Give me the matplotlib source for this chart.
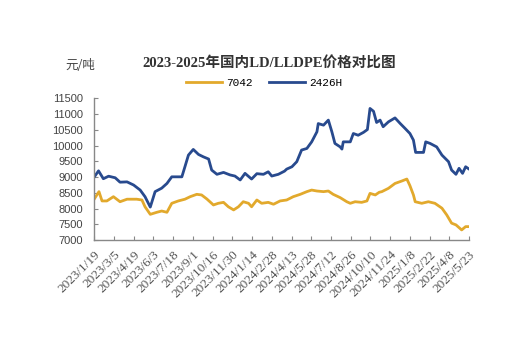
import pandas as pd
import numpy as np
import matplotlib.pyplot as plt

plt.rcParams['font.family'] = ['Noto Sans CJK SC', 'DejaVu Sans']

# 2426H (blue)
dates_2426h = ["2023-01-19", "2023-01-29", "2023-02-09", "2023-02-21", "2023-03-08", "2023-03-19",
               "2023-04-04", "2023-04-19", "2023-05-04", "2023-05-15", "2023-05-27", "2023-06-07",
               "2023-06-22", "2023-07-04", "2023-07-15", "2023-08-07", "2023-08-14", "2023-08-22",
               "2023-09-02", "2023-09-14", "2023-09-25", "2023-10-07", "2023-10-14", "2023-10-26",
               "2023-11-10", "2023-11-25", "2023-12-06", "2023-12-18", "2023-12-29", "2024-01-13",
               "2024-01-25", "2024-02-09", "2024-02-20", "2024-02-28", "2024-03-14", "2024-03-28",
               "2024-04-02", "2024-04-14", "2024-04-25", "2024-05-06", "2024-05-18", "2024-05-29",
               "2024-06-10", "2024-06-13", "2024-06-25", "2024-07-06", "2024-07-14", "2024-07-21",
               "2024-08-02", "2024-08-06", "2024-08-09", "2024-08-25", "2024-09-01", "2024-09-12",
               "2024-09-24", "2024-10-03", "2024-10-09", "2024-10-17", "2024-10-24", "2024-11-01",
               "2024-11-08", "2024-11-20", "2024-12-05", "2024-12-17", "2024-12-28", "2025-01-08",
               "2025-01-16", "2025-01-21", "2025-02-08", "2025-02-13", "2025-02-23", "2025-03-10",
               "2025-03-22", "2025-04-06", "2025-04-13", "2025-04-23", "2025-04-30", "2025-05-08",
               "2025-05-15", "2025-05-23"]
vals_2426h = [9000, 9200, 8950, 9030, 8980, 8840,
              8850, 8750, 8590, 8380, 8050, 8540,
              8650, 8800, 9010, 9010, 9330, 9700,
              9880, 9720, 9645, 9575, 9225, 9090,
              9150, 9070, 9035, 8910, 9120, 8940,
              9110, 9090, 9170, 9035, 9090, 9190,
              9255, 9330, 9490, 9860, 9910, 10120,
              10440, 10700, 10650, 10810, 10440, 10070,
              9960, 9890, 10120, 10120, 10385, 10330,
              10420, 10510, 11180, 11090, 10735, 10810,
              10600, 10755, 10880, 10700, 10545, 10385,
              10175, 9785, 9785, 10120, 10070, 9960,
              9700, 9490, 9225, 9090, 9280, 9120,
              9330, 9255]

# 7042 (orange)
dates_7042 = ["2023-01-19", "2023-01-30", "2023-02-06", "2023-02-17", "2023-03-04", "2023-03-19",
              "2023-04-04", "2023-04-26", "2023-05-08", "2023-05-15", "2023-05-27", "2023-06-11",
              "2023-06-22", "2023-07-04", "2023-07-15", "2023-07-30", "2023-08-14", "2023-08-26",
              "2023-09-10", "2023-09-21", "2023-10-03", "2023-10-18", "2023-10-29", "2023-11-10",
              "2023-11-21", "2023-12-03", "2023-12-14", "2023-12-25", "2024-01-06", "2024-01-13",
              "2024-01-25", "2024-02-05", "2024-02-20", "2024-03-03", "2024-03-18", "2024-04-02",
              "2024-04-17", "2024-05-03", "2024-05-18", "2024-05-29", "2024-06-10", "2024-06-25",
              "2024-07-06", "2024-07-17", "2024-08-02", "2024-08-17", "2024-08-25", "2024-09-05",
              "2024-09-20", "2024-10-02", "2024-10-09", "2024-10-21", "2024-10-30", "2024-11-05",
              "2024-11-20", "2024-12-05", "2024-12-20", "2025-01-01", "2025-01-08", "2025-01-16",
              "2025-01-20", "2025-02-04", "2025-02-19", "2025-03-06", "2025-03-22", "2025-04-02",
              "2025-04-13", "2025-04-23", "2025-05-06", "2025-05-15", "2025-05-23"]
vals_7042 = [8300, 8540, 8245, 8245, 8380, 8220,
             8300, 8300, 8275, 8060, 7820, 7885,
             7925, 7885, 8170, 8245, 8300, 8380,
             8455, 8435, 8307, 8117, 8170, 8200,
             8060, 7960, 8060, 8220, 8170, 8060,
             8275, 8170, 8200, 8140, 8245, 8275,
             8380, 8455, 8540, 8590, 8560, 8540,
             8560, 8455, 8350, 8220, 8170, 8220,
             8200, 8245, 8485, 8435, 8520, 8540,
             8645, 8800, 8875, 8940, 8730, 8435,
             8220, 8170, 8220, 8170, 8015, 7800,
             7540, 7485, 7325, 7430, 7430]

tick_dates = pd.date_range("2023-01-19", periods=20, freq="45D")
tick_labels = [f"{d.year}/{d.month}/{d.day}" for d in tick_dates]
y_ticks = list(range(7000, 11501, 500))

fig = plt.figure(figsize=(5.23, 3.59), dpi=100)
ax = fig.add_axes([0.18, 0.331, 0.717, 0.395])

ax.plot(pd.to_datetime(dates_7042), vals_7042, color="#e2a92c", lw=2.0, label="7042")
ax.plot(pd.to_datetime(dates_2426h), vals_2426h, color="#284a8e", lw=2.0, label="2426H")

ax.set_xlim(tick_dates[0], tick_dates[-1])
ax.set_ylim(7000, 11500)
ax.set_xticks(tick_dates)
ax.set_xticklabels(tick_labels, rotation=45, ha="right", rotation_mode="anchor",
                   fontsize=9.5, color="#555555", family="Liberation Serif")
ax.set_yticks(y_ticks)
ax.set_yticklabels([str(v) for v in y_ticks], fontsize=8, color="#444444",
                   family="Liberation Sans")
ax.tick_params(direction="in", length=3, color="#888888", pad=3)
ax.tick_params(axis="y", pad=8)
ax.tick_params(axis="x", pad=6)
for s in ["top", "right"]:
    ax.spines[s].set_visible(False)
for s in ["left", "bottom"]:
    ax.spines[s].set_color("#888888")
    ax.spines[s].set_linewidth(1.0)

fig.text(0.515, 0.825, "2023-2025年国内LD/LLDPE价格对比图", ha="center", va="center",
         fontsize=10.5, fontweight="bold", color="#333333",
         family=["Liberation Serif", "Noto Sans CJK SC"])
fig.text(0.125, 0.818, "元/吨", ha="left", va="center", fontsize=9, color="#444444")
fig.legend(loc="center", bbox_to_anchor=(0.505, 0.769), ncol=2, frameon=False,
           handlelength=3.2, columnspacing=1.5, handletextpad=0.4,
           prop={"family": "Liberation Mono", "size": 8})

fig.savefig("out.png", dpi=100)
